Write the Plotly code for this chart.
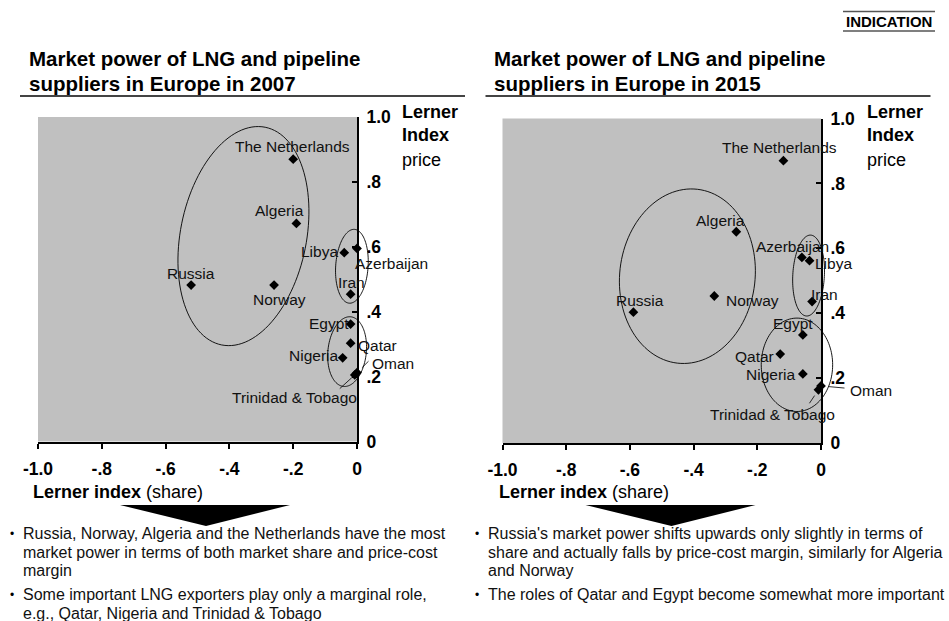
import math
import plotly.graph_objects as go

W, H = 949, 621
FONT = "Liberation Sans, Arial, Helvetica, sans-serif"

# ---- data -------------------------------------------------------------
countries = ["The Netherlands", "Algeria", "Libya", "Azerbaijan", "Iran", "Russia",
             "Norway", "Egypt", "Qatar", "Nigeria", "Oman", "Trinidad & Tobago"]

# Lerner index (share) and Lerner index (price), 2007
share_2007 = [-0.20, -0.19, -0.04, 0.00, -0.02, -0.52, -0.26, -0.02, -0.02, -0.045, 0.00, -0.007]
price_2007 = [0.87, 0.672, 0.582, 0.595, 0.454, 0.482, 0.482, 0.362, 0.303, 0.258, 0.212, 0.205]

# Lerner index (share) and Lerner index (price), 2015
share_2015 = [-0.118, -0.266, -0.036, -0.060, -0.028, -0.589, -0.335, -0.057, -0.128, -0.057, 0.00, -0.008]
price_2015 = [0.87, 0.651, 0.562, 0.572, 0.436, 0.403, 0.453, 0.333, 0.274, 0.213, 0.176, 0.164]

x_tickvals = [-1.0, -0.8, -0.6, -0.4, -0.2, 0.0]
x_ticktext = ["-1.0", "-.8", "-.6", "-.4", "-.2", "0"]
y_tickvals = [0.0, 0.2, 0.4, 0.6, 0.8, 1.0]
y_ticktext = ["0", ".2", ".4", ".6", ".8", "1.0"]

titles = {
    "2007": ["Market power of LNG and pipeline", "suppliers in Europe in 2007"],
    "2015": ["Market power of LNG and pipeline", "suppliers in Europe in 2015"],
}
bullets = {
    "2007": [
        ["Russia, Norway, Algeria and the Netherlands have the most",
         "market power in terms of both market share and price-cost",
         "margin"],
        ["Some important LNG exporters play only a marginal role,",
         "e.g., Qatar, Nigeria and Trinidad & Tobago"],
    ],
    "2015": [
        ["Russia's market power shifts upwards only slightly in terms of",
         "share and actually falls by price-cost margin, similarly for Algeria",
         "and Norway"],
        ["The roles of Qatar and Egypt become somewhat more important"],
    ],
}

# ---- layout geometry (pixels) -------------------------------------------
# plot box: left, right, top, bottom
PANELS = {
    "2007": dict(xa="x", ya="y", box=(38.0, 357.0, 117.0, 441.5), dx=0.0),
    "2015": dict(xa="x2", ya="y2", box=(502.5, 821.0, 118.5, 443.0), dx=465.5),
}

# label placement: xanchor, x shift (px), y shift (px, up positive)
LABELS = {
    "2007": {
        "The Netherlands": ("center", -1, 12.5),
        "Algeria": ("center", -17, 12.5),
        "Libya": ("right", -6.5, 1),
        "Azerbaijan": ("left", -2, -15),
        "Iran": ("center", 1, 11.5),
        "Russia": ("center", 0, 11.5),
        "Norway": ("center", 5, -14),
        "Egypt": ("right", -1.5, 1),
        "Qatar": ("left", 7.5, -2.5),
        "Nigeria": ("right", -5, 2.5),
        "Oman": ("left", 15, 9.5),
        "Trinidad & Tobago": ("right", 2.5, -23),
    },
    "2015": {
        "The Netherlands": ("center", -3.5, 13),
        "Algeria": ("center", -16, 11.5),
        "Libya": ("left", 5.5, -2.5),
        "Azerbaijan": ("center", -9, 10.5),
        "Iran": ("left", -1, 7),
        "Russia": ("center", 7, 11.5),
        "Norway": ("left", 11.5, -4),
        "Egypt": ("center", -10, 11.5),
        "Qatar": ("right", -6, -2.5),
        "Nigeria": ("right", -7.5, -1),
        "Oman": ("left", 29, -4.5),
        "Trinidad & Tobago": ("center", -46, -25),
    },
}

# leader lines: country -> (ax, ay, standoff) in px
LEADERS = {
    "2007": {"Oman": (13, -13, 7), "Trinidad & Tobago": (-16.5, 15, 4)},
    "2015": {"Oman": (25, 2.3, 8), "Trinidad & Tobago": (-10, 15, 7)},
}

# group outlines: centre (share, price), semi-axes (px, major/minor), tilt (deg)
ELLIPSES = {
    "2007": [(-0.356, 0.633, 111, 63, 11.3),
             (-0.016, 0.540, 37, 16.2, 4),
             (-0.031, 0.277, 35, 19.2, 6)],
    "2015": [(-0.4195, 0.514, 87.5, 67.7, 6.6),
             (-0.039, 0.516, 40.5, 15.8, 3),
             (-0.0755, 0.241, 46.7, 35.7, 0)],
}


def px_x(v):
    return v / W


def px_y(v):
    return 1 - v / H


def data_to_px(panel, sx, py):
    l, r, t, b = PANELS[panel]["box"]
    return l + (sx + 1.0) * (r - l), b - py * (b - t)


def ellipse_path(panel, cx, cy, a, b, tilt):
    x0, y0 = data_to_px(panel, cx, cy)
    t = math.radians(tilt)
    pts = []
    for i in range(121):
        th = 2 * math.pi * i / 120
        ux = a * math.cos(th) * math.sin(t) + b * math.sin(th) * math.cos(t)
        uy = -a * math.cos(th) * math.cos(t) + b * math.sin(th) * math.sin(t)
        pts.append((px_x(x0 + ux), px_y(y0 + uy)))
    return "M " + " L ".join(f"{x:.5f},{y:.5f}" for x, y in pts) + " Z"


fig = go.Figure()
annotations = []
shapes = []


def text_px(x, y, text, size, xanchor="left", yanchor="middle", color="black"):
    annotations.append(dict(
        xref="paper", yref="paper", x=px_x(x), y=px_y(y), text=text,
        showarrow=False, xanchor=xanchor, yanchor=yanchor,
        borderpad=0, borderwidth=0,
        font=dict(family=FONT, size=size, color=color)))


series = {"2007": (share_2007, price_2007), "2015": (share_2015, price_2015)}

for key, (sx, py) in series.items():
    p = PANELS[key]
    fig.add_trace(go.Scatter(
        x=sx, y=py, mode="markers", xaxis=p["xa"], yaxis=p["ya"],
        marker=dict(symbol="diamond", size=7.5, color="black", line=dict(width=0)),
        cliponaxis=False, hoverinfo="skip", showlegend=False))

    for name, xv, yv in zip(countries, sx, py):
        xanchor, dx, dy = LABELS[key][name]
        annotations.append(dict(
            xref=p["xa"], yref=p["ya"], x=xv, y=yv, text=name, showarrow=False,
            xanchor=xanchor, yanchor="middle", xshift=dx, yshift=dy,
            borderpad=0, borderwidth=0,
            font=dict(family=FONT, size=15.5, color="#111111")))
        if name in LEADERS[key]:
            ax, ay, so = LEADERS[key][name]
            annotations.append(dict(
                xref=p["xa"], yref=p["ya"], x=xv, y=yv, text="", showarrow=True,
                arrowhead=0, arrowwidth=0.8, arrowcolor="black",
                ax=ax, ay=ay, standoff=so))

    for cx, cy, a, b, tilt in ELLIPSES[key]:
        shapes.append(dict(type="path", xref="paper", yref="paper",
                           path=ellipse_path(key, cx, cy, a, b, tilt),
                           line=dict(color="black", width=0.9)))

    off = p["dx"]
    # panel title and rule
    text_px(28.5 + off, 58.5, f"<b>{titles[key][0]}</b>", 20.5)
    text_px(28.5 + off, 83.5, f"<b>{titles[key][1]}</b>", 20.5)
    shapes.append(dict(type="line", xref="paper", yref="paper",
                       x0=px_x(20 + off), x1=px_x(465 + off),
                       y0=px_y(96), y1=px_y(96),
                       line=dict(color="#444444", width=2)))
    # axis captions
    text_px(401.5 + off, 111.5, "<b>Lerner</b>", 18)
    text_px(401.5 + off, 135.5, "<b>Index</b>", 18)
    text_px(401.5 + off, 160, "price", 18)
    text_px(33 + off, 492, "<b>Lerner index</b> (share)", 18)
    # down arrow
    shapes.append(dict(type="path", xref="paper", yref="paper",
                       path=(f"M {px_x(120 + off)},{px_y(505)} L {px_x(290 + off)},{px_y(505)} "
                             f"L {px_x(206 + off)},{px_y(526)} Z"),
                       fillcolor="black", line=dict(color="black", width=0)))
    # bullet notes
    y = 533.5
    for para in bullets[key]:
        text_px(9.5 + off, y, "•", 12)
        for line in para:
            text_px(22.5 + off, y, line, 16, color="#111111")
            y += 18.7
        y += 5

# INDICATION tag
text_px(889, 21.5, "<b>INDICATION</b>", 15, xanchor="center")
for yy in (11.5, 31):
    shapes.append(dict(type="line", xref="paper", yref="paper",
                       x0=px_x(843), x1=px_x(935), y0=px_y(yy), y1=px_y(yy),
                       line=dict(color="#555555", width=1.5)))


def x_axis(panel, anchor):
    l, r, t, b = PANELS[panel]["box"]
    return dict(domain=[px_x(l), px_x(r)], range=[-1, 0], anchor=anchor,
                automargin=False,
                tickmode="array", tickvals=x_tickvals, ticktext=x_ticktext,
                ticks="outside", ticklen=5, tickwidth=1.5, tickcolor="black",
                showline=True, linecolor="black", linewidth=2,
                showgrid=False, zeroline=False, ticklabelstandoff=5,
                tickfont=dict(family=FONT, size=17.5, color="black", weight="bold"),
                fixedrange=True)


def y_axis(panel, anchor):
    l, r, t, b = PANELS[panel]["box"]
    return dict(domain=[px_y(b), px_y(t)], range=[0, 1], anchor=anchor, side="right",
                automargin=False,
                tickmode="array", tickvals=y_tickvals, ticktext=y_ticktext,
                ticks="inside", ticklen=5, tickwidth=1.5, tickcolor="black",
                showline=True, linecolor="black", linewidth=2,
                showgrid=False, zeroline=False, ticklabelstandoff=4,
                tickfont=dict(family=FONT, size=17.5, color="black", weight="bold"),
                fixedrange=True)


fig.update_layout(
    width=W, height=H, margin=dict(l=0, r=0, t=0, b=0, autoexpand=False),
    paper_bgcolor="white", plot_bgcolor="#c0c0c0", showlegend=False,
    xaxis=x_axis("2007", "y"), yaxis=y_axis("2007", "x"),
    xaxis2=x_axis("2015", "y2"), yaxis2=y_axis("2015", "x2"),
    annotations=annotations, shapes=shapes,
    font=dict(family=FONT),
)

fig.write_html("out.html")
